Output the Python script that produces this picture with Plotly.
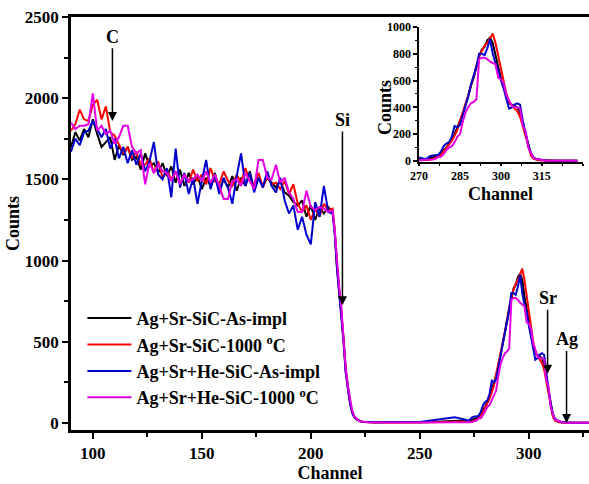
import plotly.graph_objects as go

# ---------------- data ----------------
plateau_ch = list(range(90, 210, 2))
drop_ch = list(range(210, 225))
low_ch = [226, 230, 235, 240, 245, 250, 255, 260, 263, 266, 268]
peak_ch = list(range(270, 321))
tail_ch = [322, 325, 328]
channels = plateau_ch + drop_ch + low_ch + peak_ch + tail_ch

black_vals = (
    [1700, 1790, 1740, 1810, 1760, 1870, 1780, 1700, 1730, 1760,
     1620, 1710, 1650, 1700, 1620, 1640, 1560, 1660, 1580, 1600,
     1540, 1600, 1520, 1580, 1480, 1560, 1460, 1540, 1470, 1520,
     1440, 1510, 1460, 1540, 1430, 1500, 1450, 1520, 1430, 1510,
     1460, 1550, 1440, 1510, 1460, 1510, 1480, 1450, 1490, 1420,
     1400, 1360, 1340, 1370, 1270, 1340, 1250, 1330, 1290, 1330]
    + [1300, 1170, 970, 830, 700, 520, 330, 220, 130, 70, 40, 25, 15, 10, 8]
    + [5, 3, 4, 3, 5, 4, 6, 8, 10, 12, 12]
    + [15, 10, 12, 8, 20, 25, 30, 40, 60, 80,
       100, 130, 160, 200, 250, 290, 350, 420, 480, 560,
       620, 700, 780, 830, 850, 900, 920, 880, 780, 700,
       620, 550, 480, 430, 420, 410, 400, 360, 280, 200,
       110, 50, 20, 10, 8, 5, 3, 2, 2, 1, 1]
    + [1, 1, 1]
)
red_vals = (
    [1800, 1840, 1930, 1870, 1860, 1960, 1990, 1870, 1950, 1790,
     1770, 1710, 1660, 1700, 1630, 1670, 1590, 1590, 1630, 1540,
     1610, 1510, 1560, 1500, 1550, 1470, 1530, 1480, 1560, 1490,
     1530, 1470, 1570, 1490, 1470, 1550, 1490, 1460, 1530, 1480,
     1570, 1490, 1470, 1540, 1450, 1520, 1470, 1480, 1440, 1490,
     1410, 1470, 1350, 1300, 1340, 1250, 1320, 1270, 1350, 1310]
    + [1320, 1190, 960, 810, 690, 510, 320, 210, 120, 65, 35, 20, 12, 8, 6]
    + [4, 3, 3, 2, 3, 3, 4, 5, 6, 6, 5]
    + [5, 5, 6, 8, 10, 15, 20, 30, 45, 70,
       95, 120, 150, 190, 230, 300, 360, 420, 490, 560,
       640, 720, 780, 820, 860, 880, 920, 950, 880, 780,
       680, 580, 500, 440, 410, 390, 370, 330, 260, 180,
       100, 40, 15, 8, 5, 3, 2, 2, 1, 1, 1]
    + [1, 1, 1]
)
blue_vals = (
    [1670, 1750, 1710, 1790, 1800, 1860, 1810, 1760, 1810, 1690,
     1750, 1630, 1700, 1600, 1680, 1590, 1660, 1550, 1610, 1730,
     1530, 1500, 1570, 1390, 1690, 1450, 1540, 1410, 1510, 1350,
     1490, 1620, 1440, 1530, 1410, 1510, 1450, 1350, 1520, 1660,
     1460, 1540, 1420, 1510, 1450, 1550, 1460, 1420, 1510, 1370,
     1290, 1340, 1190, 1270, 1160, 1100, 1360, 1270, 1460, 1300]
    + [1290, 1160, 950, 800, 680, 500, 310, 200, 120, 60, 35, 22, 14, 10, 8]
    + [6, 5, 6, 5, 8, 7, 15, 25, 30, 35, 30]
    + [25, 20, 15, 20, 35, 40, 40, 45, 70, 110,
       130, 140, 180, 260, 250, 270, 340, 410, 480, 570,
       640, 700, 800, 800, 790, 840, 910, 800, 730, 680,
       600, 540, 460, 390, 400, 420, 430, 420, 300, 210,
       120, 60, 25, 15, 10, 5, 4, 3, 3, 2, 2]
    + [2, 1, 1]
)
magenta_vals = (
    [1850, 1810, 1830, 1830, 1840, 2030, 1800, 1830, 1780, 1800,
     1720, 1760, 1830, 1830, 1700, 1660, 1680, 1470, 1600, 1540,
     1590, 1550, 1540, 1490, 1550, 1470, 1530, 1490, 1500, 1530,
     1490, 1550, 1480, 1530, 1460, 1380, 1380, 1490, 1500, 1460,
     1540, 1490, 1440, 1620, 1620, 1510, 1500, 1590, 1480, 1510,
     1420, 1380, 1300, 1300, 1430, 1330, 1310, 1330, 1320, 1300]
    + [1310, 1180, 980, 840, 710, 530, 340, 230, 140, 75, 40, 25, 15, 10, 8]
    + [5, 3, 3, 2, 3, 3, 4, 5, 6, 6, 5]
    + [5, 5, 5, 5, 8, 10, 15, 30, 30, 50,
       80, 100, 110, 140, 180, 200, 290, 360, 400, 430,
       440, 460, 760, 770, 770, 760, 740, 730, 720, 620,
       610, 580, 490, 450, 410, 400, 400, 390, 260, 230,
       100, 60, 20, 15, 10, 5, 3, 2, 2, 1, 1]
    + [1, 1, 1]
)

series_names = ["Ag+Sr-SiC-As-impl", "Ag+Sr-SiC-1000 <sup>o</sup>C",
                "Ag+Sr+He-SiC-As-impl", "Ag+Sr+He-SiC-1000 <sup>o</sup>C"]
series_vals = [black_vals, red_vals, blue_vals, magenta_vals]
series_colors = ["#000000", "#ff0000", "#0000cc", "#e600e6"]

# element markers: (label, channel, tip counts, label counts)
markers = [("C", 109, 1860, 2378), ("Si", 214.5, 725, 1866),
           ("Sr", 308.6, 304, 769), ("Ag", 317.3, 0, 515)]

main_xticks = [100, 150, 200, 250, 300]
main_yticks = [0, 500, 1000, 1500, 2000, 2500]
inset_xticks = [270, 285, 300, 315, 330]
inset_yticks = [0, 200, 400, 600, 800, 1000]

# ---------------- figure ----------------
FONT = "Liberation Serif"
fig = go.Figure()

for name, vals, col in zip(series_names, series_vals, series_colors):
    fig.add_trace(go.Scatter(x=channels, y=vals, mode="lines", name=name,
                             line=dict(color=col, width=2),
                             xaxis="x", yaxis="y"))

for name, vals, col in zip(series_names, series_vals, series_colors):
    xs = [c for c in channels if c >= 270]
    ys = [v for c, v in zip(channels, vals) if c >= 270]
    fig.add_trace(go.Scatter(x=xs, y=ys, mode="lines", name=name, showlegend=False,
                             line=dict(color=col, width=2),
                             xaxis="x2", yaxis="y2"))


def bold(s):
    return dict(family=FONT, size=s, color="black", weight="bold")


fig.update_layout(
    width=589, height=484,
    margin=dict(l=71, r=0, t=17, b=54),
    paper_bgcolor="white", plot_bgcolor="white",
    xaxis=dict(domain=[0, 1], range=[90, 327.6], showgrid=False, zeroline=False,
               showline=True, linecolor="black", linewidth=2.5, mirror=True,
               ticks="outside", ticklen=6, tickwidth=2, tickcolor="black",
               tickvals=main_xticks, tickfont=bold(17),
               minor=dict(dtick=25, tick0=0, ticks="outside", ticklen=4, tickwidth=2, tickcolor="black"),
               title=dict(text="Channel", font=bold(18), standoff=2)),
    yaxis=dict(domain=[0, 1], range=[-43, 2500], showgrid=False, zeroline=False,
               showline=True, linecolor="black", linewidth=2.5,
               ticks="outside", ticklen=6, tickwidth=2, tickcolor="black",
               tickvals=main_yticks, tickfont=bold(17),
               minor=dict(dtick=250, tick0=0, ticks="outside", ticklen=4, tickwidth=2, tickcolor="black"),
               title=dict(text="Counts", font=bold(18), standoff=1)),
    xaxis2=dict(domain=[0.672, 0.988], anchor="y2", range=[270, 330], showgrid=False, zeroline=False,
                showline=True, linecolor="black", linewidth=1.5,
                ticks="outside", ticklen=2, tickwidth=1.5, tickcolor="black",
                tickvals=inset_xticks, tickfont=bold(12),
                minor=dict(dtick=7.5, tick0=270, ticks="outside", ticklen=2, tickwidth=1, tickcolor="black")),
    yaxis2=dict(domain=[0.649, 0.976], anchor="x2", range=[-8, 1000], showgrid=False, zeroline=False,
                showline=True, linecolor="black", linewidth=1.5,
                ticks="outside", ticklen=4, tickwidth=1.5, tickcolor="black",
                tickvals=inset_yticks, tickfont=bold(12),
                minor=dict(dtick=100, tick0=0, ticks="outside", ticklen=2, tickwidth=1, tickcolor="black")),
    legend=dict(x=0.022, y=0.315, xanchor="left", yanchor="top", itemwidth=44,
                bgcolor="rgba(0,0,0,0)", font=bold(18), tracegroupgap=0),
    showlegend=True,
)

# inset axis titles
fig.add_annotation(text="Counts", xref="paper", yref="paper", x=0.606, y=0.782,
                   textangle=-90, showarrow=False, font=bold(18), xanchor="center", yanchor="middle")
fig.add_annotation(text="Channel", xref="paper", yref="paper", x=0.830, y=0.572,
                   showarrow=False, font=bold(18), xanchor="center", yanchor="middle")

for lab, ch, tip, lv in markers:
    fig.add_annotation(x=ch, y=tip, ax=ch, ay=lv, xref="x", yref="y", axref="x", ayref="y",
                       text=lab, showarrow=True, arrowhead=2, arrowsize=1.2, arrowwidth=1.5,
                       arrowcolor="black", font=bold(18))

fig.write_html("out.html", config={"displayModeBar": False},
               post_script="document.body.style.margin='0px';")
